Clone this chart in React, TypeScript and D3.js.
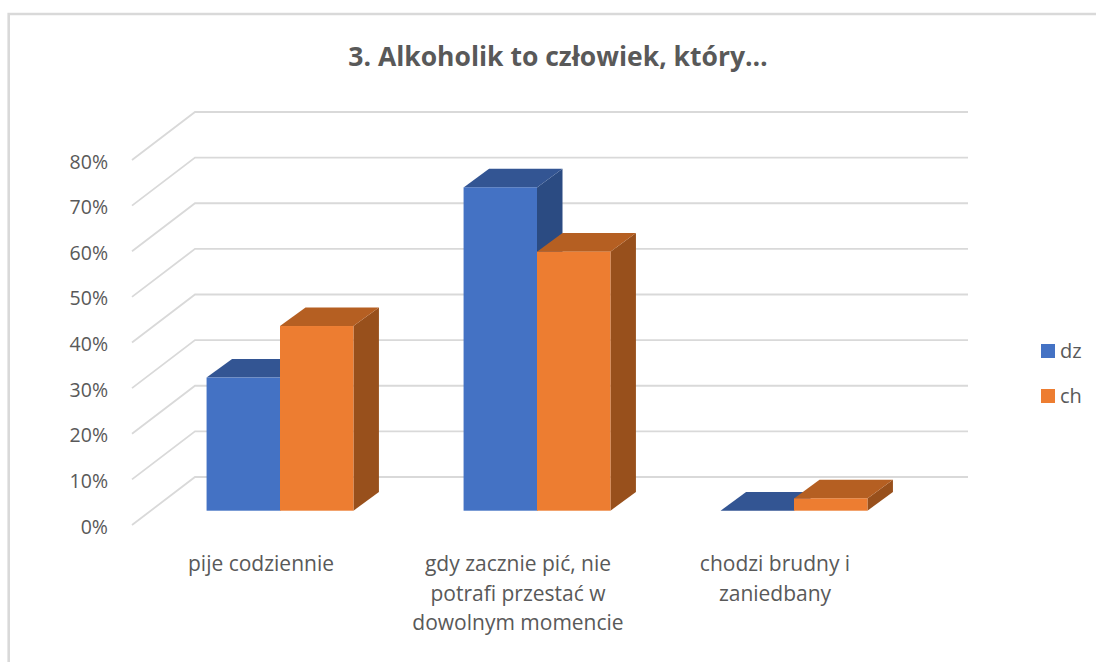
import React from "react";
import * as d3 from "d3";

const categories = ["pije codziennie", "gdy zacznie pić, nie potrafi przestać w dowolnym momencie", "chodzi brudny i zaniedbany"];
const categoryLines = [["pije codziennie"], ["gdy zacznie pić, nie", "potrafi przestać w", "dowolnym momencie"], ["chodzi brudny i", "zaniedbany"]];
const seriesNames = ["dz", "ch"];
const dzValues = [29.2, 70.9, 0];
const chValues = [40.5, 56.8, 2.7];
const ticks = [0, 10, 20, 30, 40, 50, 60, 70, 80];
const title = "3. Alkoholik to człowiek, który…";

const faces: Record<string, { front: string; top: string; side: string }> = {
  dz: { front: "#4472c4", top: "#335593", side: "#2b4b82" },
  ch: { front: "#ed7d31", top: "#b55f22", side: "#98501c" },
};

const font = "'Open Sans', sans-serif";
const textColor = "#595959";
const gridColor = "#d9d9d9";

const depthX = 25.5;
const depthY = 18.6;

export default function App() {
  const xOuter = d3.scaleBand<string>().domain(categories).range([151.5, 922.5]).paddingInner(0).paddingOuter(0);
  const xInner = d3.scaleBand<string>().domain(seriesNames).range([0, xOuter.bandwidth()]).paddingOuter(0.75).paddingInner(0);
  const yFront = d3.scaleLinear().domain([0, 80]).range([510.7, 145.9]);
  const yWallFront = d3.scaleLinear().domain([0, 80]).range([525, 160]);
  const yWallBack = d3.scaleLinear().domain([0, 80]).range([477, 112]);
  const floorLeft = 132;
  const wallLeft = 195;
  const wallRight = 968;

  const rows = categories.flatMap((c, i) => [
    { c, s: "dz", v: dzValues[i] },
    { c, s: "ch", v: chValues[i] },
  ]);

  return (
    <svg width={1096} height={662} viewBox="0 0 1096 662" style={{ position: "absolute", left: 0, top: 0, display: "block", background: "#fff" }}>
      <path d="M8.7 662V14H1096" fill="none" stroke={gridColor} strokeWidth={2.6} />
      <text x={558} y={66} textAnchor="middle" fontFamily={font} fontWeight={700} fontSize={26.5} fill={textColor}>{title}</text>

      {ticks.map((t) => (
        <path key={t} d={`M${floorLeft} ${yWallFront(t)}L${wallLeft} ${yWallBack(t)}H${wallRight}`} fill="none" stroke={gridColor} strokeWidth={1.8} />
      ))}
      {ticks.map((t) => (
        <text key={t} x={108} y={yWallFront(t) + 8.5} textAnchor="end" fontFamily={font} fontSize={19.5} fill={textColor}>{`${t}%`}</text>
      ))}

      {rows.map((d) => {
        const x0 = xOuter(d.c)! + xInner(d.s)!;
        const x1 = x0 + xInner.bandwidth();
        const yt = yFront(d.v);
        const yb = yFront(0);
        const f = faces[d.s];
        return (
          <g key={d.c + d.s}>
            <path d={`M${x1} ${yb}L${x1 + depthX} ${yb - depthY}V${yt - depthY}L${x1} ${yt}Z`} fill={f.side} />
            <path d={`M${x0} ${yt}L${x0 + depthX} ${yt - depthY}H${x1 + depthX}L${x1} ${yt}Z`} fill={f.top} />
            <rect x={x0} y={yt} width={x1 - x0} height={yb - yt} fill={f.front} />
          </g>
        );
      })}

      {categories.map((c, i) => (
        <text key={c} textAnchor="middle" fontFamily={font} fontSize={21} fill={textColor}>
          {categoryLines[i].map((l, j) => (
            <tspan key={j} x={xOuter(c)! + xOuter.bandwidth() / 2 - 19} y={571 + j * 29.5}>{l}</tspan>
          ))}
        </text>
      ))}

      {seriesNames.map((s, i) => (
        <g key={s}>
          <rect x={1041} y={344 + i * 45} width={14} height={14} fill={faces[s].front} />
          <text x={1060} y={358 + i * 45} fontFamily={font} fontSize={20} fill={textColor}>{s}</text>
        </g>
      ))}
    </svg>
  );
}
